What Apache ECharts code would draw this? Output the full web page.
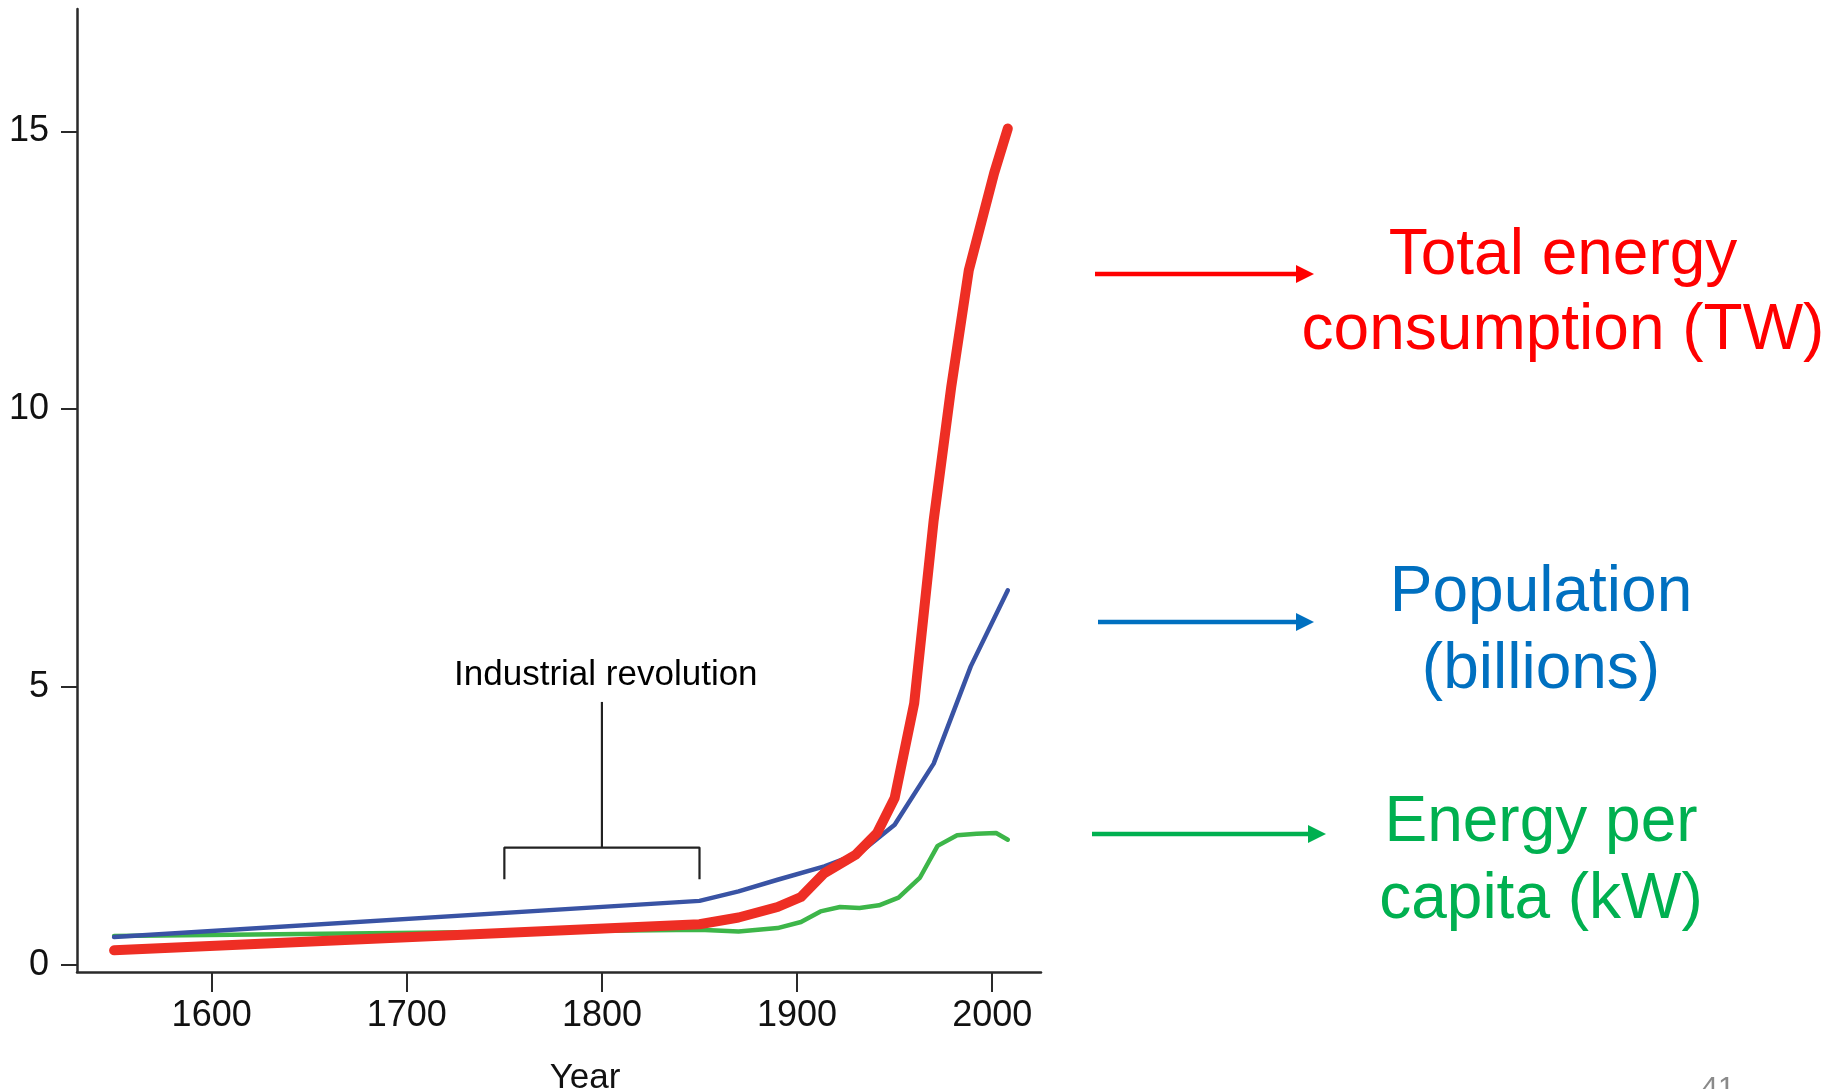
<!DOCTYPE html>
<html><head><meta charset="utf-8">
<script src="https://cdn.jsdelivr.net/npm/echarts@6/dist/echarts.min.js"></script>
<style>html,body{margin:0;padding:0;background:#fff}#c{width:1841px;height:1089px}</style>
</head><body><div id="c"></div>
<script>
// ---- data ----
const energyYears = [1550, 1850, 1870, 1890, 1902, 1914, 1930, 1941, 1950, 1960, 1970, 1979, 1988, 2001, 2008];
const energyValues = [0.26, 0.73, 0.85, 1.04, 1.22, 1.65, 1.98, 2.37, 3.0, 4.7, 8.0, 10.4, 12.5, 14.25, 15.05];
const popYears = [1550, 1850, 1870, 1890, 1914, 1932, 1950, 1970, 1989, 2008];
const popValues = [0.5, 1.15, 1.32, 1.53, 1.77, 2.01, 2.52, 3.62, 5.37, 6.74];
const perCapYears = [1550, 1850, 1870, 1890, 1902, 1912, 1922, 1932, 1942, 1952, 1963, 1972, 1982, 1992, 2002, 2008];
const perCapValues = [0.52, 0.63, 0.6, 0.66, 0.77, 0.96, 1.04, 1.02, 1.07, 1.21, 1.57, 2.14, 2.33, 2.36, 2.37, 2.25];
const xTickValues = [1600, 1700, 1800, 1900, 2000];
const yTickValues = [0, 5, 10, 15];
const bracketYears = [1750, 1750, 1850, 1850];
const bracketValues = [1.54, 2.11, 2.11, 1.54];
const stemYears = [1800, 1800];
const stemValues = [2.11, 4.73];
const industrialLabel = { year: 1802, value: 5.2, text: 'Industrial revolution' };

const pairs = (xs, ys) => xs.map((x, i) => [x, ys[i]]);
const FONT = '"Liberation Sans", Arial, Helvetica, sans-serif';
const AX = '#2a2a2a';

const chart = echarts.init(document.getElementById('c'), null, { renderer: 'canvas' });

function arrow(x1, x2, y, color) {
  const head = 18, half = 9;
  return {
    type: 'group',
    children: [
      { type: 'line', shape: { x1: x1, y1: y, x2: x2 - head + 2, y2: y }, style: { stroke: color, lineWidth: 4.5 } },
      { type: 'polygon', shape: { points: [[x2 - head, y - half], [x2, y], [x2 - head, y + half]] }, style: { fill: color } }
    ]
  };
}

const option = {
  animation: false,
  backgroundColor: '#fff',
  grid: { left: 77, right: 800, top: 9, bottom: 117, containLabel: false },
  xAxis: {
    type: 'value', min: 1531, max: 2025,
    axisLine: { show: true, onZero: false, lineStyle: { color: AX, width: 2.5 } },
    axisTick: { show: true, inside: false, length: 20, customValues: xTickValues, lineStyle: { color: AX, width: 2 } },
    axisLabel: { show: true, customValues: xTickValues, formatter: v => String(v), margin: 26, fontSize: 36, color: '#111', fontFamily: FONT },
    splitLine: { show: false }
  },
  yAxis: {
    type: 'value', min: -0.13, max: 17.2,
    axisLine: { show: true, onZero: false, lineStyle: { color: AX, width: 2.5 } },
    axisTick: { show: true, inside: false, length: 16, customValues: yTickValues, lineStyle: { color: AX, width: 2 } },
    axisLabel: { show: true, customValues: yTickValues, formatter: v => String(v), margin: 28, fontSize: 36, color: '#111', fontFamily: FONT },
    splitLine: { show: false }
  },
  series: [
    { type: 'line', name: 'bracket', data: pairs(bracketYears, bracketValues), symbol: 'none', silent: true,
      lineStyle: { color: '#222', width: 2.2 } },
    { type: 'line', name: 'stem', data: pairs(stemYears, stemValues), symbol: 'none', silent: true,
      lineStyle: { color: '#222', width: 2.2 } },
    { type: 'scatter', name: 'label', data: [[industrialLabel.year, industrialLabel.value]], symbolSize: 0, silent: true,
      itemStyle: { opacity: 1 },
      label: { show: true, position: 'inside', formatter: industrialLabel.text, fontSize: 35, color: '#000', opacity: 1, textBorderWidth: 0, fontFamily: FONT } },
    { type: 'line', name: 'Energy per capita', data: pairs(perCapYears, perCapValues), symbol: 'none',
      lineStyle: { color: '#3db649', width: 4.5, cap: 'round', join: 'round' } },
    { type: 'line', name: 'Population', data: pairs(popYears, popValues), symbol: 'none',
      lineStyle: { color: '#3953a4', width: 4.5, cap: 'round', join: 'round' } },
    { type: 'line', name: 'Total energy', data: pairs(energyYears, energyValues), symbol: 'none',
      lineStyle: { color: '#ee2e24', width: 10, cap: 'round', join: 'round' } }
  ],
  graphic: [
    { type: 'text', x: 585, y: 1078, style: { text: 'Year', align: 'center', verticalAlign: 'middle', fontSize: 35, fill: '#111', fontFamily: FONT } },
    arrow(1095, 1314, 274, '#ff0000'),
    arrow(1098, 1314, 622, '#0070c0'),
    arrow(1092, 1326, 834, '#00b050'),
    { type: 'text', x: 1563, y: 294, style: { text: 'Total energy\nconsumption (TW)', align: 'center', verticalAlign: 'middle', lineHeight: 75, fontSize: 64, fill: '#ff0000', fontFamily: FONT } },
    { type: 'text', x: 1541, y: 632, style: { text: 'Population\n(billions)', align: 'center', verticalAlign: 'middle', lineHeight: 77, fontSize: 64, fill: '#0070c0', fontFamily: FONT } },
    { type: 'text', x: 1541, y: 862, style: { text: 'Energy per\ncapita (kW)', align: 'center', verticalAlign: 'middle', lineHeight: 77, fontSize: 64, fill: '#00b050', fontFamily: FONT } },
    { type: 'text', x: 1718, y: 1074, style: { text: '41', align: 'center', verticalAlign: 'top', fontSize: 30, fill: '#8a8a8a', fontFamily: FONT } }
  ]
};
chart.setOption(option);
</script>
</body></html>
